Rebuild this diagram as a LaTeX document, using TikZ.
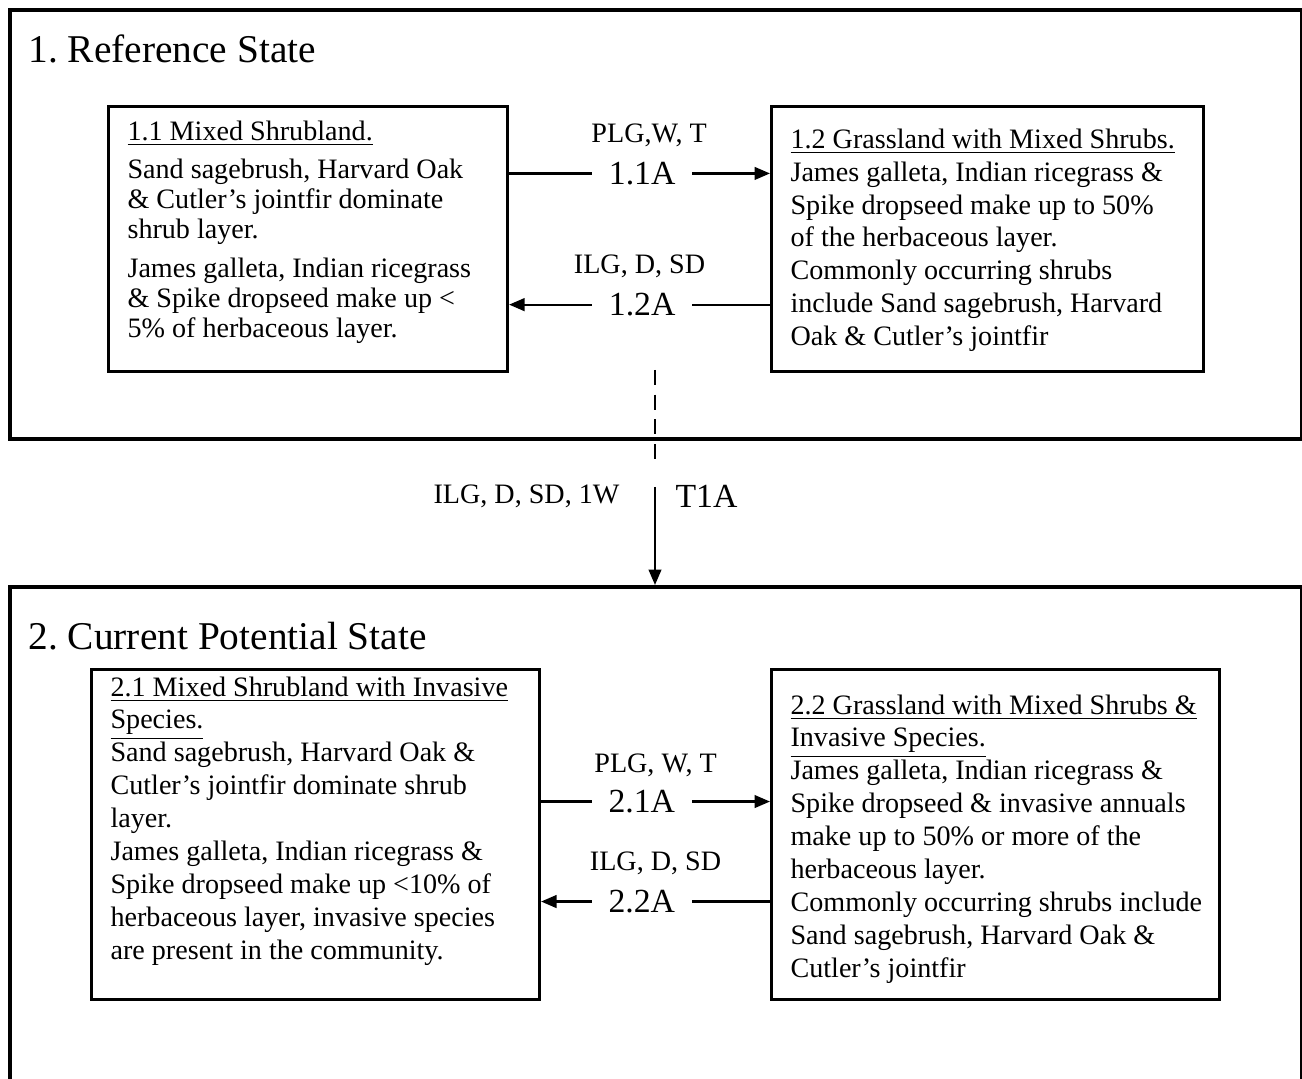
\documentclass[tikz,border=0pt]{standalone}
\usepackage{fontspec}
\setmainfont{Liberation Serif}
\usetikzlibrary{arrows.meta,positioning}

\tikzset{
  statebox/.style={draw=black, line width=1.4pt, anchor=north west, inner sep=0pt},
  commbox/.style={draw=black, line width=1.1pt, anchor=north west, inner sep=0pt},
  commtext/.style={anchor=north west, align=left, inner sep=0pt, font=\fontsize{10}{11.7}\selectfont},
  tightlines/.style={font=\fontsize{10}{10.6}\selectfont},
  statetitle/.style={anchor=base west, inner sep=0pt, font=\fontsize{14}{16}\selectfont},
  flow/.style={line width=0.8pt, -{Triangle[length=5.5pt,width=4.5pt]}},
  pathcode/.style={fill=white, inner xsep=6pt, inner ysep=1pt, font=\fontsize{12}{14}\selectfont},
  drivers/.style={inner sep=0pt, font=\fontsize{10}{12}\selectfont},
}

% community phase box: [text style], name, x, y, width, height, text drop, text
\newcommand{\community}[8][]{%
  \node[commbox, minimum width=#5cm, minimum height=#6cm] (#2) at (#3,#4) {};
  \node[commtext, #1] (#2txt) at ([shift={(0.25,-#7)}]#2.north west) {#8};
}

\begin{document}
\begin{tikzpicture}
  \useasboundingbox (0,0) rectangle (16.275,13.475);
  \clip (0,0) rectangle (16.275,13.475);
  \fill[white] (0,0) rectangle (16.275,13.475);

  % states
  \node[statebox, minimum width=16.15cm, minimum height=5.3625cm] (st1) at (0.1,13.375) {};
  \node[statebox, minimum width=16.15cm, minimum height=7.5cm] (st2) at (0.1,6.1625) {};
  \node[statetitle] (st1title) at (0.35,12.69) {1.\ Reference State};
  \node[statetitle] (st2title) at (0.35,5.35) {2.\ Current Potential State};

  % reference state phases
  \community[tightlines]{b11}{1.3375}{12.1625}{4.9875}{3.3125}{0.19}{%
    \underline{1.1 Mixed Shrubland.}\\[3pt]
    Sand sagebrush, Harvard Oak\\
    \& Cutler's jointfir dominate\\
    shrub layer.\\[3.5pt]
    James galleta, Indian ricegrass\\
    \& Spike dropseed make up <\\
    5\% of herbaceous layer.}

  \community{b12}{9.625}{12.1625}{5.4}{3.3125}{0.29}{%
    \underline{1.2 Grassland with Mixed Shrubs.}\\
    James galleta, Indian ricegrass \&\\
    Spike dropseed make up to 50\%\\
    of the herbaceous layer.\\
    Commonly occurring shrubs\\
    include Sand sagebrush, Harvard\\
    Oak \& Cutler's jointfir}

  % current potential state phases
  \community{b21}{1.125}{5.125}{5.6}{4.125}{0.1}{%
    \underline{2.1 Mixed Shrubland with Invasive}\\
    \underline{Species.}\\
    Sand sagebrush, Harvard Oak \&\\
    Cutler's jointfir dominate shrub\\
    layer.\\
    James galleta, Indian ricegrass \&\\
    Spike dropseed make up <10\% of\\
    herbaceous layer, invasive species\\
    are present in the community.}

  \community{b22}{9.625}{5.125}{5.6}{4.125}{0.325}{%
    \underline{2.2 Grassland with Mixed Shrubs \&}\\
    \underline{Invasive Species.}\\
    James galleta, Indian ricegrass \&\\
    Spike dropseed \& invasive annuals\\
    make up to 50\% or more of the\\
    herbaceous layer.\\
    Commonly occurring shrubs include\\
    Sand sagebrush, Harvard Oak \&\\
    Cutler's jointfir}

  % community pathways
  \draw[flow] ([yshift=0.82cm]b11.east) -- node[pathcode, pos=0.51] (p11) {1.1A}
    node[drivers, pos=0.5, above=0.32cm, xshift=0.12cm] (d11) {PLG,W, T}
    ([yshift=0.82cm]b11.east -| b12.west);
  \draw[flow] ([yshift=-0.82cm]b12.west) -- node[pathcode, pos=0.49] (p12) {1.2A}
    node[drivers, pos=0.5, above=0.32cm] (d12) {ILG, D, SD}
    ([yshift=-0.82cm]b12.west -| b11.east);
  \draw[flow] ([yshift=0.4125cm]b21.east) -- node[pathcode, pos=0.44] (p21) {2.1A}
    node[drivers, pos=0.5, above=0.3cm] (d21) {PLG, W, T}
    ([yshift=0.4125cm]b21.east -| b22.west);
  \draw[flow] ([yshift=-0.8375cm]b22.west) -- node[pathcode, pos=0.56] (p22) {2.2A}
    node[drivers, pos=0.5, above=0.32cm] (d22) {ILG, D, SD}
    ([yshift=-0.8375cm]b22.west -| b21.east);

  % transition
  \coordinate (t1top) at (8.1875,8.85);
  \coordinate (t1gap) at (8.1875,7.65);
  \coordinate (t1low) at (8.1875,7.39);
  \draw[line width=1pt, dash pattern=on 5.3pt off 3.5pt] (t1top) -- (t1gap);
  \draw[flow] (t1low) -- (t1low |- st2.north);
  \node[drivers, anchor=east] (t1drv) at (7.75,7.275) {ILG, D, SD, 1W};
  \node[anchor=west, inner sep=0pt, font=\fontsize{12}{14}\selectfont] (t1code) at (8.4375,7.275) {T1A};
\end{tikzpicture}
\end{document}
